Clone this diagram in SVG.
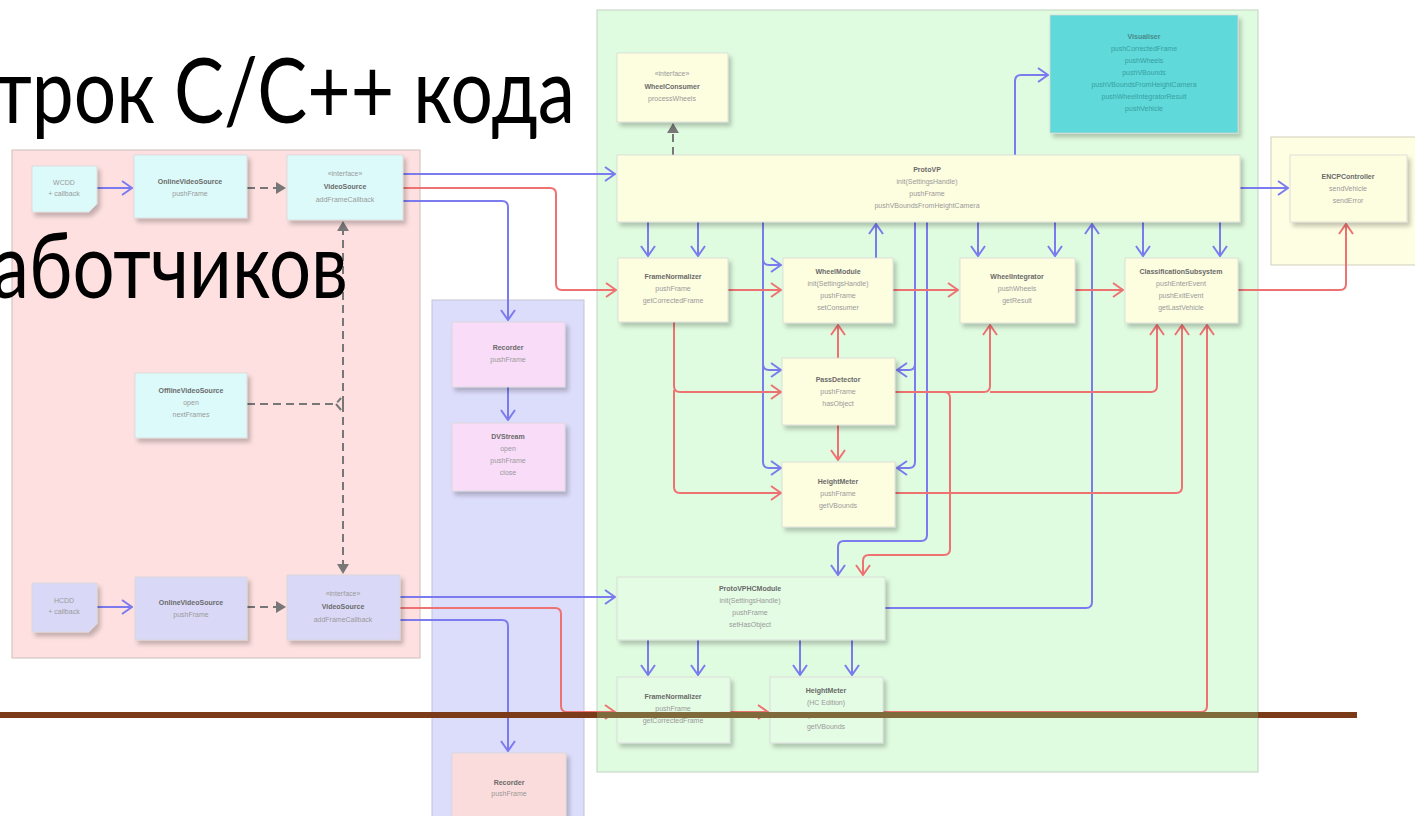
<svg xmlns="http://www.w3.org/2000/svg" width="1415" height="816" viewBox="0 0 1415 816">
<defs>
<style>
.n{stroke:#d8d8d8;stroke-width:0.8;filter:url(#sh)}
.cy{fill:#dcfafa}
.lv{fill:#d9d9f7}
.yl{fill:#fdfde0}
.pk{fill:#f8dcf8}
.sa{fill:#fbdcdc}
.gr{fill:#e4fbe4}
.vi{fill:#5ed9da}
text{font-family:"Liberation Sans",Arial,sans-serif;font-size:7px;text-anchor:middle;fill:#9a9a9a}
text.b{font-weight:bold;fill:#6a6a6a}
text.big{font-family:Lato,"Open Sans",sans-serif;font-size:79px;text-anchor:start;fill:#000;font-weight:normal}
.bl{fill:none;stroke:#7b7bef;stroke-width:2}
.rd{fill:none;stroke:#ee7272;stroke-width:2}
.ds{fill:none;stroke:#777;stroke-width:2;stroke-dasharray:8 5}
</style>
<filter id="sh" x="-10%" y="-10%" width="130%" height="140%">
<feDropShadow dx="3" dy="4" stdDeviation="2" flood-color="#000" flood-opacity="0.22"/>
</filter>
<marker id="ab" viewBox="0 0 12 16" refX="11" refY="8" markerWidth="12" markerHeight="16" markerUnits="userSpaceOnUse" orient="auto"><path d="M1,1 L11,8 L1,15" fill="none" stroke="#7b7bef" stroke-width="2"/></marker>
<marker id="ar" viewBox="0 0 12 16" refX="11" refY="8" markerWidth="12" markerHeight="16" markerUnits="userSpaceOnUse" orient="auto"><path d="M1,1 L11,8 L1,15" fill="none" stroke="#ee7272" stroke-width="2"/></marker>
<marker id="ag" viewBox="0 0 10 12" refX="9" refY="6" markerWidth="10" markerHeight="12" markerUnits="userSpaceOnUse" orient="auto"><path d="M0,0 L10,6 L0,12 Z" fill="#777"/></marker>
</defs>
<rect width="1415" height="816" fill="#fff"/>

<g id="containers">
<rect x="12" y="150" width="408" height="508" fill="#fde0df" stroke="#cdbcbc"/>
<rect x="432" y="300" width="152" height="530" fill="#dcdcfb" stroke="#c4c4d8"/>
<rect x="597" y="10" width="661" height="762" fill="#e0fce0" stroke="#c2d2c2"/>
<rect x="1271" y="137" width="150" height="128" fill="#fefee3" stroke="#cfcfb8"/>
</g>

<g id="connectors">
<path class="bl" marker-end="url(#ab)" d="M97,188 H132"/>
<path class="bl" marker-end="url(#ab)" d="M97,607 H132"/>
<path class="ds" marker-end="url(#ag)" d="M247,188 H285"/>
<path class="ds" marker-end="url(#ag)" d="M247,607 H285"/>
<path class="ds" d="M247,404 H336 L341,398 M336,404 L341,410"/>
<path class="ds" marker-end="url(#ag)" d="M343,404 V222"/>
<path class="ds" marker-end="url(#ag)" d="M343,404 V573"/>
<path class="bl" marker-end="url(#ab)" d="M403,174 H615"/>
<path class="rd" marker-end="url(#ar)" d="M403,188 H550 Q556,188 556,194 V284 Q556,290 562,290 H616"/>
<path class="bl" marker-end="url(#ab)" d="M403,201 H502 Q508,201 508,207 V320"/>
<path class="bl" marker-end="url(#ab)" d="M400,597 H615"/>
<path class="rd" marker-end="url(#ar)" d="M400,608 H555 Q561,608 561,614 V706 Q561,712 567,712 H615"/>
<path class="bl" marker-end="url(#ab)" d="M400,620 H502 Q508,620 508,626 V751"/>
<path class="bl" marker-end="url(#ab)" d="M508,387 V420"/>
<path class="ds" marker-end="url(#ag)" d="M673,155 V124"/>
<path class="bl" marker-end="url(#ab)" d="M1015,155 V81 Q1015,75 1021,75 H1048"/>
<path class="bl" marker-end="url(#ab)" d="M1240,188 H1288"/>
<path class="rd" marker-end="url(#ar)" d="M1238,290 H1340 Q1346,290 1346,284 V224"/>
<path class="bl" marker-end="url(#ab)" d="M648,222 V256"/>
<path class="bl" marker-end="url(#ab)" d="M698,222 V256"/>
<path class="bl" marker-end="url(#ab)" d="M978,222 V256"/>
<path class="bl" marker-end="url(#ab)" d="M1055,222 V256"/>
<path class="bl" marker-end="url(#ab)" d="M1143,222 V256"/>
<path class="bl" marker-end="url(#ab)" d="M1220,222 V256"/>
<path class="bl" marker-end="url(#ab)" d="M876,258 V224"/>
<path class="bl" marker-end="url(#ab)" d="M763,222 V462 Q763,468 769,468 H781"/>
<path class="bl" marker-end="url(#ab)" d="M763,259 Q763,265 769,265 H781"/>
<path class="bl" marker-end="url(#ab)" d="M763,364 Q763,370 769,370 H781"/>
<path class="bl" marker-end="url(#ab)" d="M915,222 V462 Q915,468 909,468 H897"/>
<path class="bl" marker-end="url(#ab)" d="M915,364 Q915,370 909,370 H897"/>
<path class="bl" marker-end="url(#ab)" d="M927,222 V535 Q927,541 921,541 H844 Q838,541 838,547 V575"/>
<path class="bl" marker-end="url(#ab)" d="M885,608 H1086 Q1092,608 1092,602 V224"/>
<path class="rd" marker-end="url(#ar)" d="M728,290 H781"/>
<path class="rd" marker-end="url(#ar)" d="M893,290 H958"/>
<path class="rd" marker-end="url(#ar)" d="M1075,290 H1123"/>
<path class="rd" marker-end="url(#ar)" d="M674,322 V386 Q674,392 680,392 H781"/>
<path class="rd" marker-end="url(#ar)" d="M674,390 V487 Q674,493 680,493 H781"/>
<path class="rd" marker-end="url(#ar)" d="M838,358 V325"/>
<path class="rd" marker-end="url(#ar)" d="M838,425 V460"/>
<path class="rd" marker-end="url(#ar)" d="M895,392 H984 Q990,392 990,386 V325"/>
<path class="rd" marker-end="url(#ar)" d="M990,392 H1151 Q1157,392 1157,386 V325"/>
<path class="rd" marker-end="url(#ar)" d="M944,392 Q950,392 950,398 V549 Q950,555 944,555 H869 Q863,555 863,561 V575"/>
<path class="rd" marker-end="url(#ar)" d="M895,493 H1176 Q1182,493 1182,487 V325"/>
<path class="rd" marker-end="url(#ar)" d="M883,712 H1201 Q1207,712 1207,706 V325"/>
<path class="rd" marker-end="url(#ar)" d="M730,712 H768"/>
<path class="bl" marker-end="url(#ab)" d="M648,640 V675"/>
<path class="bl" marker-end="url(#ab)" d="M698,640 V675"/>
<path class="bl" marker-end="url(#ab)" d="M800,640 V675"/>
<path class="bl" marker-end="url(#ab)" d="M852,640 V675"/>
</g>

<g id="wcdd"><path class="n cy" d="M32,166 H97 V204 L89,212 H32 Z"/><text x="64" y="185">WCDD</text><text x="64" y="196">+ callback</text></g>
<g id="ovs1"><rect class="n cy" x="134" y="155" width="113" height="63"/><text class="b" x="190" y="184">OnlineVideoSource</text><text x="190" y="196">pushFrame</text></g>
<g id="vs1"><rect class="n cy" x="287" y="155" width="116" height="65"/><text x="345" y="176">«interface»</text><text class="b" x="345" y="189">VideoSource</text><text x="345" y="202">addFrameCallback</text></g>
<g id="offvs"><rect class="n cy" x="135" y="373" width="112" height="65"/><text class="b" x="191" y="393">OfflineVideoSource</text><text x="191" y="405">open</text><text x="191" y="417">nextFrames</text></g>
<g id="hcdd"><path class="n lv" d="M32,583 H97 V624 L89,632 H32 Z"/><text x="64" y="603">HCDD</text><text x="64" y="614">+ callback</text></g>
<g id="ovs2"><rect class="n lv" x="135" y="577" width="112" height="63"/><text class="b" x="191" y="605">OnlineVideoSource</text><text x="191" y="617">pushFrame</text></g>
<g id="vs2"><rect class="n lv" x="287" y="575" width="113" height="65"/><text x="343" y="596">«interface»</text><text class="b" x="343" y="609">VideoSource</text><text x="343" y="622">addFrameCallback</text></g>

<g id="recorder1"><rect class="n pk" x="452" y="322" width="113" height="65"/><text class="b" x="508" y="350">Recorder</text><text x="508" y="362">pushFrame</text></g>
<g id="dvstream"><rect class="n pk" x="452" y="423" width="113" height="68"/><text class="b" x="508" y="439">DVStream</text><text x="508" y="451">open</text><text x="508" y="463">pushFrame</text><text x="508" y="475">close</text></g>
<g id="recorder2"><rect class="n sa" x="452" y="753" width="114" height="70"/><text class="b" x="509" y="785">Recorder</text><text x="509" y="796">pushFrame</text></g>

<g id="wheelconsumer"><rect class="n yl" x="617" y="53" width="111" height="69"/><text x="672" y="76">«interface»</text><text class="b" x="672" y="89">WheelConsumer</text><text x="672" y="101">processWheels</text></g>
<g id="visualiser"><rect class="n vi" x="1050" y="15" width="188" height="118"/><text class="b" x="1144" y="39" style="fill:#4a8a8a">Visualiser</text><text x="1144" y="51" style="fill:#3aa0a2">pushCorrectedFrame</text><text x="1144" y="63" style="fill:#3aa0a2">pushWheels</text><text x="1144" y="75" style="fill:#3aa0a2">pushVBounds</text><text x="1144" y="87" style="fill:#3aa0a2">pushVBoundsFromHeightCamera</text><text x="1144" y="99" style="fill:#3aa0a2">pushWheelIntegratorResult</text><text x="1144" y="111" style="fill:#3aa0a2">pushVehicle</text></g>
<g id="protovp"><rect class="n yl" x="617" y="155" width="623" height="67"/><text class="b" x="927" y="172">ProtoVP</text><text x="927" y="184">init(SettingsHandle)</text><text x="927" y="196">pushFrame</text><text x="927" y="208">pushVBoundsFromHeightCamera</text></g>
<g id="encp"><rect class="n yl" x="1290" y="155" width="117" height="67"/><text class="b" x="1348" y="179">ENCPController</text><text x="1348" y="191">sendVehicle</text><text x="1348" y="203">sendError</text></g>
<g id="fn1"><rect class="n yl" x="618" y="258" width="110" height="64"/><text class="b" x="673" y="279">FrameNormalizer</text><text x="673" y="291">pushFrame</text><text x="673" y="303">getCorrectedFrame</text></g>
<g id="wheelmodule"><rect class="n yl" x="783" y="258" width="110" height="65"/><text class="b" x="838" y="274">WheelModule</text><text x="838" y="286">init(SettingsHandle)</text><text x="838" y="298">pushFrame</text><text x="838" y="310">setConsumer</text></g>
<g id="wheelintegrator"><rect class="n yl" x="960" y="258" width="115" height="65"/><text class="b" x="1017" y="279">WheelIntegrator</text><text x="1017" y="291">pushWheels</text><text x="1017" y="303">getResult</text></g>
<g id="classification"><rect class="n yl" x="1125" y="258" width="113" height="65"/><text class="b" x="1181" y="274">ClassificationSubsystem</text><text x="1181" y="286">pushEnterEvent</text><text x="1181" y="298">pushExitEvent</text><text x="1181" y="310">getLastVehicle</text></g>
<g id="passdetector"><rect class="n yl" x="782" y="358" width="113" height="67"/><text class="b" x="838" y="382">PassDetector</text><text x="838" y="394">pushFrame</text><text x="838" y="406">hasObject</text></g>
<g id="heightmeter1"><rect class="n yl" x="782" y="462" width="113" height="65"/><text class="b" x="838" y="484">HeightMeter</text><text x="838" y="496">pushFrame</text><text x="838" y="508">getVBounds</text></g>
<g id="protovphc"><rect class="n gr" x="617" y="577" width="268" height="63"/><text class="b" x="750" y="591">ProtoVPHCModule</text><text x="750" y="603">init(SettingsHandle)</text><text x="750" y="615">pushFrame</text><text x="750" y="627">setHasObject</text></g>
<g id="fn2"><rect class="n gr" x="617" y="677" width="113" height="66"/><text class="b" x="673" y="699">FrameNormalizer</text><text x="673" y="711">pushFrame</text><text x="673" y="723">getCorrectedFrame</text></g>
<g id="heightmeter2"><rect class="n gr" x="770" y="677" width="113" height="66"/><text class="b" x="826" y="693">HeightMeter</text><text x="826" y="705">(HC Edition)</text><text x="826" y="717">pushFrame</text><text x="826" y="729">getVBounds</text></g>

<g id="slide">
<line x1="0" y1="715" x2="597" y2="715" stroke="#7b3b18" stroke-width="6"/>
<line x1="597" y1="715" x2="1258" y2="715" stroke="#7f6a3c" stroke-width="6"/>
<line x1="1258" y1="715" x2="1357" y2="715" stroke="#7b3b18" stroke-width="6"/>
<text class="big" transform="scale(1,1.165)" x="-6" y="105.6" textLength="581" lengthAdjust="spacingAndGlyphs">трок C/C++ кода</text>
<text class="big" transform="scale(1,1.165)" x="-8" y="255.8" textLength="356" lengthAdjust="spacingAndGlyphs">аботчиков</text>
</g>
</svg>
